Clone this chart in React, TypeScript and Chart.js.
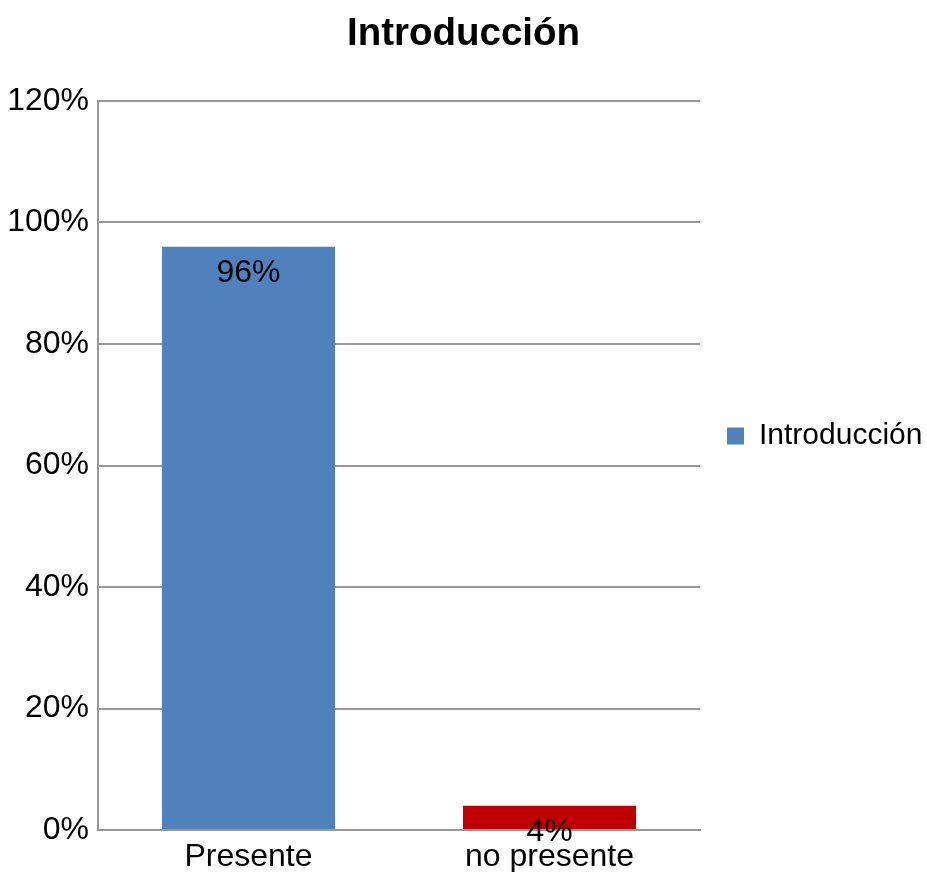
import React, { useEffect, useRef } from "react";
import { Chart, registerables } from "chart.js";

Chart.register(...registerables);

const TITLE = "Introducción";
const categories = ["Presente", "no presente"];
const values = [96, 4];
const barColors = ["#4F81BD", "#C00000"];
const yTicks = [0, 20, 40, 60, 80, 100, 120];

const FONT = "'Liberation Sans', Arial, sans-serif";

// Writes each bar's value just below the top edge of the bar.
const valueLabels = {
  id: "valueLabels",
  afterDraw(chart: any) {
    const ctx = chart.ctx;
    const meta = chart.getDatasetMeta(0);
    ctx.save();
    ctx.font = `32px ${FONT}`;
    ctx.fillStyle = "#000";
    ctx.textAlign = "center";
    ctx.textBaseline = "middle";
    meta.data.forEach((bar: any, i: number) => {
      const v = chart.data.datasets[0].data[i];
      ctx.fillText(`${v}%`, bar.x, bar.y + 26);
    });
    ctx.restore();
  },
};

export default function App() {
  const ref = useRef<HTMLCanvasElement | null>(null);

  useEffect(() => {
    if (!ref.current) return;
    const chart = new Chart(ref.current, {
      type: "bar",
      data: {
        labels: categories,
        datasets: [
          {
            label: TITLE,
            data: values,
            backgroundColor: barColors,
            borderWidth: 0,
            barPercentage: 0.575,
            categoryPercentage: 1,
          },
        ],
      },
      options: {
        responsive: false,
        animation: false,
        layout: { padding: 0 },
        plugins: {
          title: {
            display: true,
            text: TITLE,
            color: "#000",
            font: { family: FONT, size: 38.5, weight: "bold" },
            padding: { top: 11.4, bottom: 43.4 },
          },
          legend: {
            display: true,
            position: "right",
            maxWidth: 227,
            labels: {
              color: "#000",
              font: { family: FONT, size: 30 },
              boxWidth: 17,
              boxHeight: 17,
              padding: 27,
              generateLabels: () => [
                {
                  text: TITLE,
                  fillStyle: barColors[0],
                  strokeStyle: barColors[0],
                  lineWidth: 0,
                  hidden: false,
                  datasetIndex: 0,
                },
              ],
            },
          },
          tooltip: { enabled: false },
        },
        scales: {
          x: {
            grid: { display: false, drawTicks: false },
            border: { display: true, color: "#999", width: 2 },
            ticks: {
              color: "#000",
              font: { family: FONT, size: 32 },
              padding: 8,
              maxRotation: 0,
            },
            afterFit: (scale: any) => {
              scale.height = 42;
            },
          },
          y: {
            min: 0,
            max: 120,
            grid: { color: "#999", lineWidth: 2, drawTicks: false },
            border: { display: true, color: "#999", width: 2 },
            afterBuildTicks: (scale: any) => {
              scale.ticks = yTicks.map((v) => ({ value: v }));
            },
            ticks: {
              color: "#000",
              font: { family: FONT, size: 32 },
              padding: 9,
              callback: (v: any) => `${v}%`,
            },
            afterFit: (scale: any) => {
              scale.width = 98;
            },
          },
        },
      },
      plugins: [valueLabels],
    });
    return () => chart.destroy();
  }, []);

  return (
    <div style={{ position: "fixed", left: 0, top: 0, width: 927, height: 872, background: "#fff" }}>
      <canvas ref={ref} width={927} height={872} />
    </div>
  );
}
